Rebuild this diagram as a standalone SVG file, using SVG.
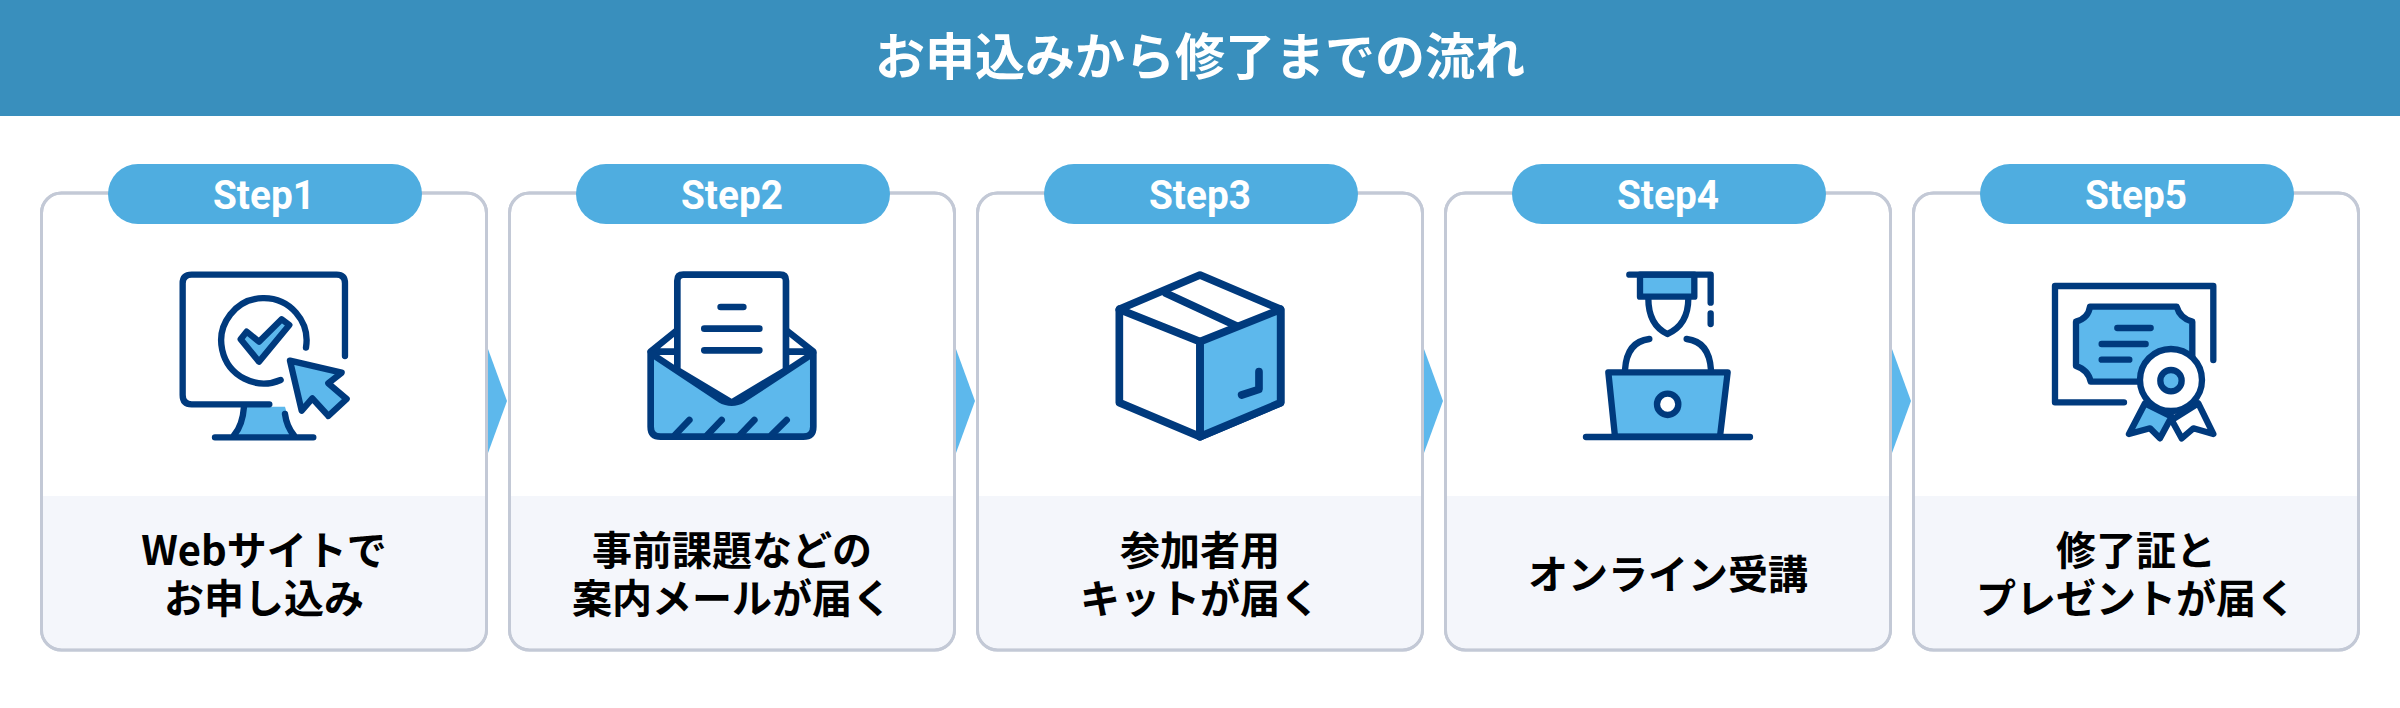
<svg xmlns="http://www.w3.org/2000/svg" width="2400" height="708" viewBox="0 0 2400 708">
<style>
text{font-family:"Noto Sans CJK JP","Noto Sans",sans-serif;font-weight:700;text-anchor:middle}
.title{font-size:50px;fill:#fff}
.step{font-family:Roboto,"Noto Sans",sans-serif;font-size:41px;fill:#fff}
.label{font-size:40px;fill:#000}
.card{fill:#fff;stroke:#c3c9d6;stroke-width:3}
.pale{fill:#f4f6fb}
.pill{fill:#4fade0}
.arrow{fill:#5db8ec}
.ic{fill:none;stroke:#003a7d;stroke-width:19;stroke-linecap:round;stroke-linejoin:round}
.l{fill:#5db8ec}
.w{fill:#fff}
</style>
<defs>
<g id="card">
<rect class="card" x="0" y="0" width="445" height="457" rx="20"/>
<path class="pale" d="M1.5 303H443.5V437A18.5 18.5 0 0 1 425 455.5H20A18.5 18.5 0 0 1 1.5 437Z"/>
<rect x="0" y="0" width="445" height="457" rx="20" fill="none" stroke="#c3c9d6" stroke-width="3"/>
<rect class="pill" x="66.5" y="-29" width="314" height="60" rx="30"/>
</g>
</defs>
<rect width="2400" height="708" fill="#fff"/>
<g id="header">
<rect x="0" y="0" width="2400" height="116" fill="#398fbd"/>
<text class="title" x="1200" y="75">お申込みから修了までの流れ</text>
</g>
<g id="connectors">
<polygon class="arrow" points="488,349 507,401 488,453"/>
<polygon class="arrow" points="956,349 975,401 956,453"/>
<polygon class="arrow" points="1424,349 1443,401 1424,453"/>
<polygon class="arrow" points="1892,349 1911,401 1892,453"/>
</g>
<g id="step1">
<use href="#card" x="41.5" y="193"/>
<text class="step" x="264" y="209" textLength="102" lengthAdjust="spacingAndGlyphs">Step1</text>
<g class="ic" transform="translate(150 250) scale(.3333)">
<path class="l" stroke="none" d="M285 470H405L430 555H255Q278 520 285 470Z"/>
<path d="M585 318V100Q585 74 560 74H125Q98 74 98 100V435Q98 463 125 463H358"/>
<path d="M282 470Q278 525 252 556M405 492Q410 530 432 556M195 562H490"/>
<path d="M468 293A128 128 0 1 0 392 390"/>
<path class="l" d="M327 335L272 268L290 245L327 275L395 208L418 225Z"/>
<path class="l" d="M420 332L575 368L535 400L590 447L535 498L487 445L455 482Z"/>
</g>
<text class="label" x="264" y="565">Webサイトで</text>
<text class="label" x="264" y="613">お申し込み</text>
</g>
<g id="step2">
<use href="#card" x="509.5" y="193"/>
<text class="step" x="732" y="209" textLength="102" lengthAdjust="spacingAndGlyphs">Step2</text>
<g class="ic" style="stroke-width:20" transform="translate(620 250) scale(.3333)">
<path class="w" d="M172 240L92 305H580L498 240"/>
<path class="w" d="M172 360V92Q172 74 190 74H480Q498 74 498 92V360L335 458Z"/>
<path class="l" d="M92 310L300 448Q335 468 370 448L580 310V530Q580 560 550 560H122Q92 560 92 530Z"/>
<path d="M302 171H370M253 236H418M253 301H418M165 555L208 510M262 555L305 510M360 555L403 510M455 555L500 510"/>
</g>
<text class="label" x="732" y="565">事前課題などの</text>
<text class="label" x="732" y="613">案内メールが届く</text>
</g>
<g id="step3">
<use href="#card" x="977.5" y="193"/>
<text class="step" x="1200" y="209" textLength="102" lengthAdjust="spacingAndGlyphs">Step3</text>
<g class="ic" style="stroke-width:23" transform="translate(1090 250) scale(.3333)">
<path class="w" d="M330 75L572 178V458L330 560L88 458V178Z"/>
<path class="l" d="M330 275L572 178V458L330 560Z"/>
<path d="M88 178L330 275M330 275V560M228 130L440 228M507 365V418L455 435"/>
</g>
<text class="label" x="1200" y="565">参加者用</text>
<text class="label" x="1200" y="613">キットが届く</text>
</g>
<g id="step4">
<use href="#card" x="1445.5" y="193"/>
<text class="step" x="1668" y="209" textLength="102" lengthAdjust="spacingAndGlyphs">Step4</text>
<g class="ic" transform="translate(1560 250) scale(.3333)">
<path d="M265 145Q265 225 322 252Q385 225 385 145"/>
<path class="l" d="M240 74H403V140H240Z"/>
<path d="M208 74H452V158M452 190V222"/>
<path d="M195 360Q200 275 268 267M380 267Q448 275 453 360"/>
<path class="l" d="M145 367H503L480 560H165Z"/>
<circle class="w" cx="323" cy="463" r="32"/>
<path d="M78 561H570"/>
</g>
<text class="label" x="1668" y="589">オンライン受講</text>
</g>
<g id="step5">
<use href="#card" x="1913.5" y="193"/>
<text class="step" x="2136" y="209" textLength="102" lengthAdjust="spacingAndGlyphs">Step5</text>
<g class="ic" transform="translate(2030 260) scale(.3333)">
<path d="M550 300V78H75V427H282"/>
<path class="l" d="M180 140H440Q450 175 487 185V325Q450 335 440 365H182Q175 330 138 318V185Q175 175 180 140Z"/>
<path d="M262 204H362M215 252H347M215 299H298"/>
<path class="l" d="M345 430L297 522L360 505L390 535L425 470Z"/>
<path class="w" d="M505 430L550 522L490 505L455 535L425 480Z"/>
<circle class="w" cx="423" cy="360" r="93"/>
<circle class="l" cx="423" cy="362" r="32"/>
</g>
<text class="label" x="2136" y="565">修了証と</text>
<text class="label" x="2136" y="613">プレゼントが届く</text>
</g>
</svg>
